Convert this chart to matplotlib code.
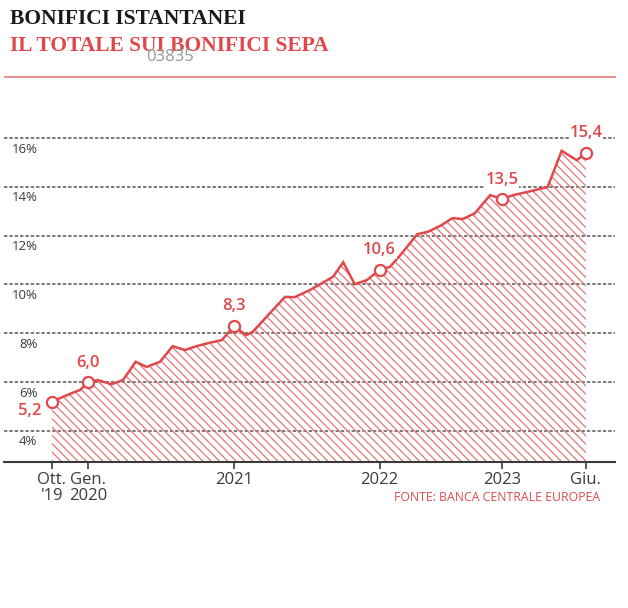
import matplotlib.pyplot as plt

plt.rcParams['font.family'] = ['Open Sans', 'DejaVu Sans']
plt.rcParams['hatch.linewidth'] = 0.9

# dati (mesi da ottobre 2019, quota %)
mesi = [0, 0.9, 1.65, 2.3, 3, 3.8, 4.9, 5.85, 6.9, 7.8, 8.9, 9.95, 10.95, 11.9,
        13.0, 14.0, 15, 16.0, 16.55, 17.95, 19.2, 20.0, 21.25, 23.15, 24.0,
        24.95, 25.95, 27, 27.85, 28.7, 30.1, 31.0, 32.1, 33.0, 33.85, 34.85,
        36.1, 37.1, 38.0, 39.6, 40.85, 42.0, 43.25, 44]
quota = [5.2, 5.39, 5.55, 5.67, 6.0, 6.08, 5.91, 6.08, 6.83, 6.62, 6.83, 7.47,
         7.31, 7.47, 7.61, 7.72, 8.3, 7.92, 8.06, 8.82, 9.49, 9.48, 9.77, 10.31,
         10.91, 10.01, 10.18, 10.6, 10.72, 11.2, 12.06, 12.16, 12.43, 12.72,
         12.68, 12.92, 13.66, 13.5, 13.66, 13.84, 14.0, 15.48, 15.09, 15.4]

# punti evidenziati
evid_mesi = [0, 3, 15, 27, 37.1, 44]
evid_val = [5.2, 6.0, 8.3, 10.6, 13.5, 15.4]
evid_lab = ['5,2', '6,0', '8,3', '10,6', '13,5', '15,4']

tick_pos = [0, 3, 15, 27, 37.1, 44]
tick_lab = ["Ott.\n'19", 'Gen.\n2020', '2021', '2022', '2023', 'Giu.']
griglia = [4, 6, 8, 10, 12, 14, 16]

rosso = '#e0484c'
grigio = '#3a3a3a'

fig = plt.figure(figsize=(6.28, 6.08), dpi=100)
ax = fig.add_axes([0.0064, 0.240, 0.973, 0.549])
ymin = 2.72
ax.set_xlim(-3.95, 46.4)
ax.set_ylim(ymin, 16.4)

for g in griglia:
    ax.axhline(g, color='#555555', lw=1.1, ls=(0, (2.2, 1.3)), zorder=1)
    ax.text(-1.2, g - 0.45, f'{g}%', ha='right', va='center', fontsize=9.5,
            color=grigio, zorder=2)

ax.fill_between(mesi, quota, ymin, facecolor='none', edgecolor='#e2777a',
                hatch='\\\\\\\\', linewidth=0, zorder=2)
ax.plot(mesi, quota, color=rosso, lw=1.8, zorder=3, solid_joinstyle='miter')
ax.plot(evid_mesi, evid_val, 'o', ms=8, mfc='white', mec=rosso, mew=1.6, zorder=4)

for m, v, lab in zip(evid_mesi, evid_val, evid_lab):
    off = (-16, -7) if lab == '5,2' else (0, 14)
    ax.annotate(lab, (m, v), xytext=off, textcoords='offset points',
                ha='center', va='center', fontsize=12, color=rosso,
                fontweight='semibold', zorder=5,
                bbox=dict(facecolor='white', edgecolor='none', pad=0.5))

for s in ['top', 'right', 'left']:
    ax.spines[s].set_visible(False)
ax.spines['bottom'].set_color(grigio)
ax.spines['bottom'].set_linewidth(1.5)
ax.set_yticks([])
ax.set_xticks(tick_pos)
ax.set_xticklabels(tick_lab, fontsize=12, color=grigio, linespacing=1.0)
ax.tick_params(axis='x', direction='out', length=5, width=1.2, color=grigio, pad=2)

fig.text(0.016, 0.968, 'BONIFICI ISTANTANEI', fontsize=15.5, fontweight='bold',
         family='Liberation Serif', color='#1a1a1a', va='center')
fig.text(0.016, 0.924, 'IL TOTALE SUI BONIFICI SEPA', fontsize=15.5,
         fontweight='bold', family='Liberation Serif', color=rosso, va='center')
fig.text(0.270, 0.906, '03835', fontsize=12, color='#999999', va='center',
         ha='center')
fig.add_artist(plt.Line2D([0.008, 0.979], [0.874, 0.874], color='#e07a7c', lw=1.2))
fig.text(0.956, 0.181, 'FONTE: BANCA CENTRALE EUROPEA', fontsize=8.8, color=rosso,
         ha='right', va='center')

fig.savefig('out.png', dpi=100)
